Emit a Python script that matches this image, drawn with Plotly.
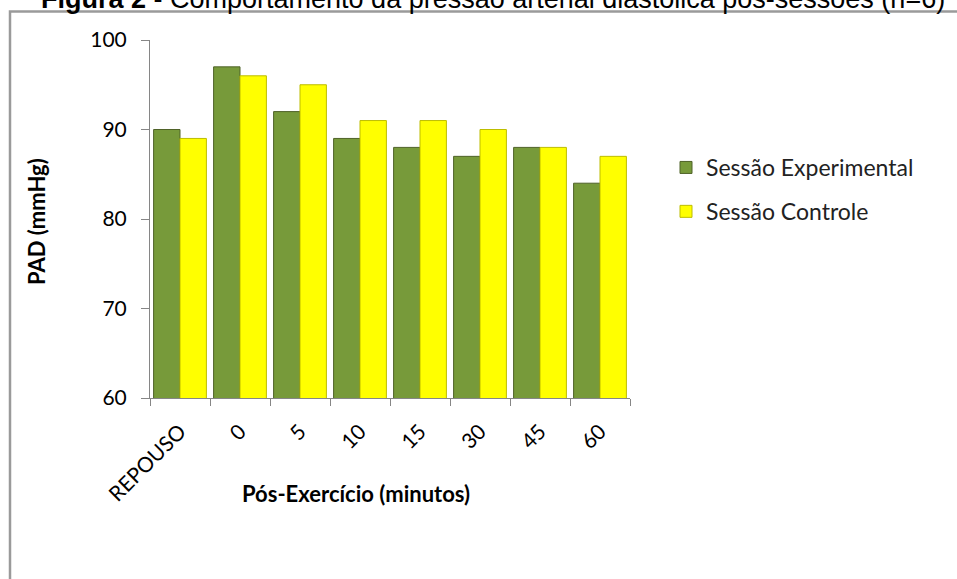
import plotly.graph_objects as go

categories = ["REPOUSO", "0", "5", "10", "15", "30", "45", "60"]
experimental = [90, 97, 92, 89, 88, 87, 88, 84]
controle = [89, 96, 95, 91, 91, 90, 88, 87]
y_ticks = [60, 70, 80, 90, 100]

L, R, T, B = 150, 327, 40, 181
W, H = 957, 579
pw, ph = W - L - R, H - T - B

def px(x):
    return (x - L) / pw

def py(y):
    return (H - B - y) / ph

fig = go.Figure()
fig.add_trace(go.Bar(
    x=categories, y=experimental, name="Sessão Experimental",
    marker=dict(color="#779A3A", line=dict(color="#4F6228", width=1)),
    legendgroup="a",
))
fig.add_trace(go.Bar(
    x=categories, y=controle, name="Sessão Controle",
    marker=dict(color="#FFFF00", line=dict(color="#BDBD00", width=1)),
    legendgroup="b",
))

calibri = "Lato, Carlito, Calibri, sans-serif"

fig.update_layout(
    width=W, height=H,
    margin=dict(l=L, r=R, t=T, b=B),
    paper_bgcolor="white", plot_bgcolor="white",
    barmode="group", bargap=0.12, bargroupgap=0.0,
    font=dict(family=calibri, size=19, color="#000000"),
    showlegend=True,
    legend=dict(
        x=px(666), y=py(146), xanchor="left", yanchor="top",
        font=dict(family=calibri, size=23, color="#222222"),
        tracegroupgap=11, bgcolor="rgba(0,0,0,0)",
    ),
    xaxis=dict(
        type="category", showline=True, linecolor="#868686", linewidth=1,
        ticks="outside", ticklen=7, tickcolor="#868686", tickson="boundaries",
        tickangle=-45, tickfont=dict(family=calibri, size=21),
        ticklabelstandoff=12,
        showgrid=False, zeroline=False,
    ),
    yaxis=dict(
        range=[60, 100], tickvals=y_ticks, showline=True, linecolor="#868686",
        linewidth=1, ticks="outside", ticklen=8, tickcolor="#868686",
        tickfont=dict(family=calibri, size=21), ticklabelstandoff=10,
        showgrid=False, zeroline=False,
    ),
    shapes=[dict(
        type="rect", xref="paper", yref="paper",
        x0=px(10), x1=px(1100), y0=py(700), y1=py(11.5),
        line=dict(color="#9A9A9A", width=2.5), layer="below",
    )],
    annotations=[
        dict(text="<b>PAD (mmHg)</b>", xref="paper", yref="paper", x=px(36), y=py(222),
             textangle=-90, showarrow=False, xanchor="center", yanchor="middle",
             font=dict(family=calibri, size=22, color="#000000")),
        dict(text="<b>Pós-Exercício (minutos)</b>", xref="paper", yref="paper",
             x=px(356), y=py(493), showarrow=False, xanchor="center", yanchor="middle",
             font=dict(family=calibri, size=22, color="#000000")),
        dict(text="<b>Figura 2</b> - Comportamento da pressão arterial diastólica pós-sessões (n=6)",
             xref="paper", yref="paper", x=px(493), y=py(-1), showarrow=False,
             xanchor="center", yanchor="middle",
             font=dict(family="Liberation Sans, Arial, sans-serif", size=27, color="#000000")),
    ],
)

fig.write_html("out.html")
